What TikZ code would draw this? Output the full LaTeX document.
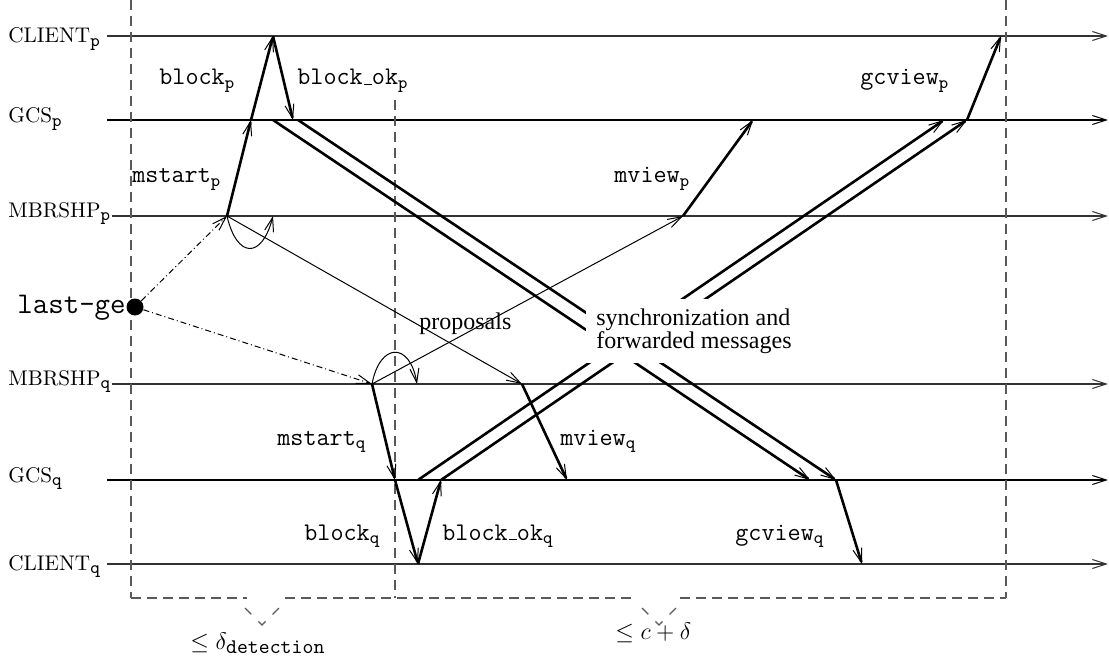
\documentclass[tikz,border=0pt]{standalone}
\usepackage{fontspec}
\newfontfamily\timesfont{Liberation Serif}
\usetikzlibrary{arrows.meta}
\newcommand{\tsub}[1]{$_{\mathtt{#1}}$}
\newcommand{\lsub}[1]{$_{\hbox{\fontsize{9}{9}\ttfamily #1}}$}
\newcommand{\usc}{\leavevmode\kern.06em\vbox{\hrule width.3em}}
\tikzset{
  >={Straight Barb[length=7pt,width=4.5pt,line width=0.5pt]},
  proc/.style={line width=0.65pt,black!80,->},
  gcs/.style={line width=1.3pt,->},
  msg/.style={line width=1.3pt,->},
  thinmsg/.style={line width=0.5pt,->},
  frame/.style={black!65,line width=0.6pt,dash pattern=on 5pt off 3pt},
  vee/.style={black!65,line width=0.6pt,dash pattern=on 4.5pt off 5pt on 5pt off 5pt on 4.5pt},
  gen/.style={line width=0.5pt,dash pattern=on 3pt off 1.5pt on 0.5pt off 1.5pt,->},
  lbl/.style={font=\fontsize{10.6}{12}\selectfont,anchor=base west,inner sep=0pt},
  evt/.style={font=\ttfamily\fontsize{12.7}{14}\selectfont,anchor=base west,inner sep=0pt},
  bound/.style={font=\fontsize{12}{14}\selectfont,anchor=base west,inner sep=0pt},
  sync/.style={fill=white,align=left,inner sep=5pt,font=\timesfont\fontsize{12}{11.5}\selectfont},
}
\begin{document}
\begin{tikzpicture}[x=0.5pt,y=-0.5pt]
\useasboundingbox (0,0) rectangle (1109,658);
% process names
\node[lbl] (lcp) at (8,43) {CLIENT\lsub{p}};
\node[lbl] (lgp) at (8,123) {GCS\lsub{p}};
\node[lbl] (lmp) at (8,217) {MBRSHP\lsub{p}};
\node[lbl] (lmq) at (8,385) {MBRSHP\lsub{q}};
\node[lbl] (lgq) at (8,482) {GCS\lsub{q}};
\node[lbl] (lcq) at (8,570) {CLIENT\lsub{q}};
% time lines
\coordinate (cp0) at (107,36);  \coordinate (cpe) at (1108,36);
\coordinate (gp0) at (107,120); \coordinate (gpe) at (1108,120);
\coordinate (mp0) at (112,216); \coordinate (mpe) at (1108,216);
\coordinate (mq0) at (112,384); \coordinate (mqe) at (1108,384);
\coordinate (gq0) at (107,480); \coordinate (gqe) at (1108,480);
\coordinate (cq0) at (107,564); \coordinate (cqe) at (1108,564);
\draw[proc] (cp0) -- (cpe);
\draw[gcs] (gp0) -- (gpe);
\draw[proc] (mp0) -- (mpe);
\draw[proc] (mq0) -- (mqe);
\draw[gcs] (gq0) -- (gqe);
\draw[proc] (cq0) -- (cqe);
% events
\coordinate (cp1) at (273,36);  \coordinate (cp2) at (1001,36);
\coordinate (gp1) at (251,120); \coordinate (gp2) at (273,120);
\coordinate (gp3) at (293,120); \coordinate (gp4) at (298,120);
\coordinate (gp5) at (753,120); \coordinate (gp6) at (944,120);
\coordinate (gp7) at (967,120);
\coordinate (mp1) at (227,216); \coordinate (mp2) at (273,216);
\coordinate (mp3) at (683,216);
\coordinate (mq1) at (372,384); \coordinate (mq2) at (417,384);
\coordinate (mq3) at (522,384);
\coordinate (gq1) at (395,480); \coordinate (gq2) at (418,480);
\coordinate (gq3) at (441,480); \coordinate (gq4) at (567,480);
\coordinate (gq5) at (810,480); \coordinate (gq6) at (836,480);
\coordinate (cq1) at (418,564); \coordinate (cq2) at (862,564);
% dashed frame
\draw[frame] (131,0) -- (131,598);
\draw[frame] (395,100) -- (395,598);
\draw[frame] (1006,0) -- (1006,598);
\draw[frame] (131,598) -- (247,598);
\draw[frame] (285,598) -- (636,598);
\draw[frame] (680,598) -- (1006,598);
\draw[vee] (245,608) -- (262,625) -- (279,608);
\draw[vee] (642,608) -- (659,625) -- (676,608);
\node[bound] (dd) at (190,649) {$\leq\delta_{\hbox{\fontsize{10.4}{12}\ttfamily detection}}$};
\node[bound] (dc) at (615,639) {$\leq c+\delta$};
% last generation
\node[anchor=base east,inner sep=0pt,font=\ttfamily\fontsize{15}{18}\selectfont] (lgt) at (126,313) {last-ge};
\node[circle,fill,inner sep=0pt,minimum size=8.5pt] (lg) at (135,307) {};
\draw[gen] (lg) -- (mp1);
\draw[gen] (lg) -- (mq1);
% membership
\draw[thinmsg] (mp1) .. controls (237,259) and (262,259) .. (mp2);
\draw[thinmsg] (mq1) .. controls (380,342) and (410,342) .. (mq2);
\draw[thinmsg] (mp1) -- (mq3);
\draw[thinmsg] (mq1) -- (mp3);
\draw[msg] (mp1) -- (gp1);
\draw[msg] (gp1) -- (cp1);
\draw[msg] (cp1) -- (gp3);
\draw[msg] (mp3) -- (gp5);
\draw[msg] (gp7) -- (cp2);
\draw[msg] (mq1) -- (gq1);
\draw[msg] (gq1) -- (cq1);
\draw[msg] (cq1) -- (gq3);
\draw[msg] (mq3) -- (gq4);
\draw[msg] (gq6) -- (cq2);
% synchronization
\draw[msg] (gp2) -- (gq5);
\draw[msg] (gp4) -- (gq6);
\draw[msg] (gq2) -- (gp6);
\draw[msg] (gq3) -- (gp7);
\node[sync] (sync) at (694,331) {synchronization and\\forwarded messages};
\node[anchor=base west,inner sep=0pt,font=\timesfont\fontsize{12}{14}\selectfont] (prop) at (419,329) {proposals};
% labels
\node[evt] (bp) at (159,85) {block\tsub{p}};
\node[evt] (bop) at (297,85) {block\usc ok\tsub{p}};
\node[evt] (gvp) at (860,85) {gcview\tsub{p}};
\node[evt] (msp) at (132,183) {mstart\tsub{p}};
\node[evt] (mvp) at (614,183) {mview\tsub{p}};
\node[evt] (msq) at (277,445) {mstart\tsub{q}};
\node[evt] (mvq) at (560,445) {mview\tsub{q}};
\node[evt] (bq) at (304,540) {block\tsub{q}};
\node[evt] (boq) at (442,540) {block\usc ok\tsub{q}};
\node[evt] (gvq) at (735,540) {gcview\tsub{q}};
\end{tikzpicture}
\end{document}
